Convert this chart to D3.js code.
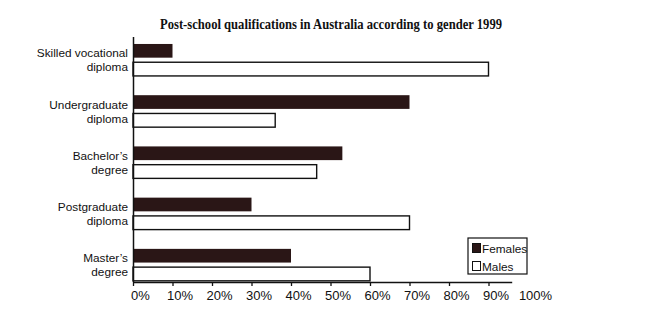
<!DOCTYPE html>
<html>
<head>
<meta charset="utf-8">
<script src="https://cdn.jsdelivr.net/npm/d3@7"></script>
<style>
  body { margin: 0; background: #fff; }
  svg { display: block; }
  .label { font-family: "Liberation Sans", Arial, sans-serif; font-size: 11.8px; fill: #111; }
</style>
</head>
<body>
<div id="chart"></div>
<script>
// Data
const categories = ["Skilled vocational diploma", "Undergraduate diploma", "Bachelor’s degree", "Postgraduate diploma", "Master’s degree"];
const labelLines = [["Skilled vocational", "diploma"], ["Undergraduate", "diploma"], ["Bachelor’s", "degree"], ["Postgraduate", "diploma"], ["Master’s", "degree"]];
const series = ["Females", "Males"];
const females = [10, 70, 53, 30, 40];
const males = [90, 36, 46.5, 70, 60];
const xTicks = [0, 10, 20, 30, 40, 50, 60, 70, 80, 90, 100];

const WIDTH = 647, HEIGHT = 319;
const AXIS_Y = 282;
const COLORS = { Females: "#2a1616", Males: "#ffffff" };

const svg = d3.select("#chart").append("svg")
  .attr("width", WIDTH)
  .attr("height", HEIGHT);

// Scales
const x = d3.scaleLinear().domain([0, 100]).range([133, 528]);
const y0 = d3.scaleBand().domain(categories).range([36.8, 288]).paddingInner(0.376).paddingOuter(0.14);
const y1 = d3.scaleBand().domain(series).range([0, y0.bandwidth()]).paddingInner(0.25);

const rows = categories.map((c, i) => ({ cat: c, lines: labelLines[i], Females: females[i], Males: males[i] }));

// Title
svg.append("text")
  .attr("x", 160)
  .attr("y", 28.5)
  .attr("textLength", 342)
  .attr("lengthAdjust", "spacingAndGlyphs")
  .attr("font-family", "'Liberation Serif', 'Times New Roman', serif")
  .attr("font-weight", "bold")
  .attr("font-size", "15px")
  .attr("fill", "#111")
  .text("Post-school qualifications in Australia according to gender 1999");

// Bars
const groups = svg.selectAll("g.group")
  .data(rows)
  .enter().append("g")
  .attr("class", "group")
  .attr("transform", d => `translate(0, ${y0(d.cat)})`);

groups.selectAll("rect")
  .data(d => series.map(s => ({ key: s, value: d[s] })))
  .enter().append("rect")
  .attr("x", x(0))
  .attr("y", d => y1(d.key))
  .attr("width", d => x(d.value) - x(0))
  .attr("height", y1.bandwidth())
  .attr("fill", d => COLORS[d.key])
  .attr("stroke", d => d.key === "Males" ? "#111" : "none")
  .attr("stroke-width", 1.4);

// Category labels (two lines around the group centre)
groups.each(function(d) {
  const g = d3.select(this);
  const mid = y0.bandwidth() / 2;
  d.lines.forEach((line, j) => {
    g.append("text")
      .attr("class", "label")
      .attr("x", x(0) - 5)
      .attr("y", mid - 2.5 + j * 14)
      .attr("text-anchor", "end")
      .text(line);
  });
});

// Y axis line
svg.append("line")
  .attr("x1", x(0) + 0.5).attr("x2", x(0) + 0.5)
  .attr("y1", 37).attr("y2", AXIS_Y)
  .attr("stroke", "#111")
  .attr("stroke-width", 1.5);

// X axis
const xAxis = svg.append("g")
  .attr("transform", `translate(0, ${AXIS_Y})`)
  .call(d3.axisBottom(x).tickValues(xTicks).tickSize(4).tickSizeOuter(0).tickFormat(d => d + "%"));

xAxis.select(".domain")
  .attr("d", `M${x(0)},0.5H${x(96)}`)
  .attr("stroke", "#111")
  .attr("stroke-width", 1.5);

xAxis.selectAll(".tick line")
  .attr("stroke", "#111")
  .attr("stroke-width", 1.3)
  .attr("display", d => d === 100 ? "none" : null);

xAxis.selectAll(".tick text")
  .attr("dx", 7)
  .attr("y", 9)
  .attr("fill", "#111")
  .attr("font-family", "'Liberation Sans', Arial, sans-serif")
  .attr("font-size", "13px");

// Legend
const legend = svg.append("g").attr("transform", "translate(468, 238)");
legend.append("rect")
  .attr("width", 59).attr("height", 36)
  .attr("fill", "#fff")
  .attr("stroke", "#111")
  .attr("stroke-width", 1.2);

series.forEach((s, i) => {
  legend.append("rect")
    .attr("x", 4.5).attr("y", 5.5 + i * 18)
    .attr("width", 8).attr("height", 9)
    .attr("fill", COLORS[s])
    .attr("stroke", "#111")
    .attr("stroke-width", 1);
  legend.append("text")
    .attr("class", "label")
    .attr("x", 14)
    .attr("y", 14.5 + i * 18)
    .attr("font-size", "12.5px")
    .text(s);
});
</script>
</body>
</html>
